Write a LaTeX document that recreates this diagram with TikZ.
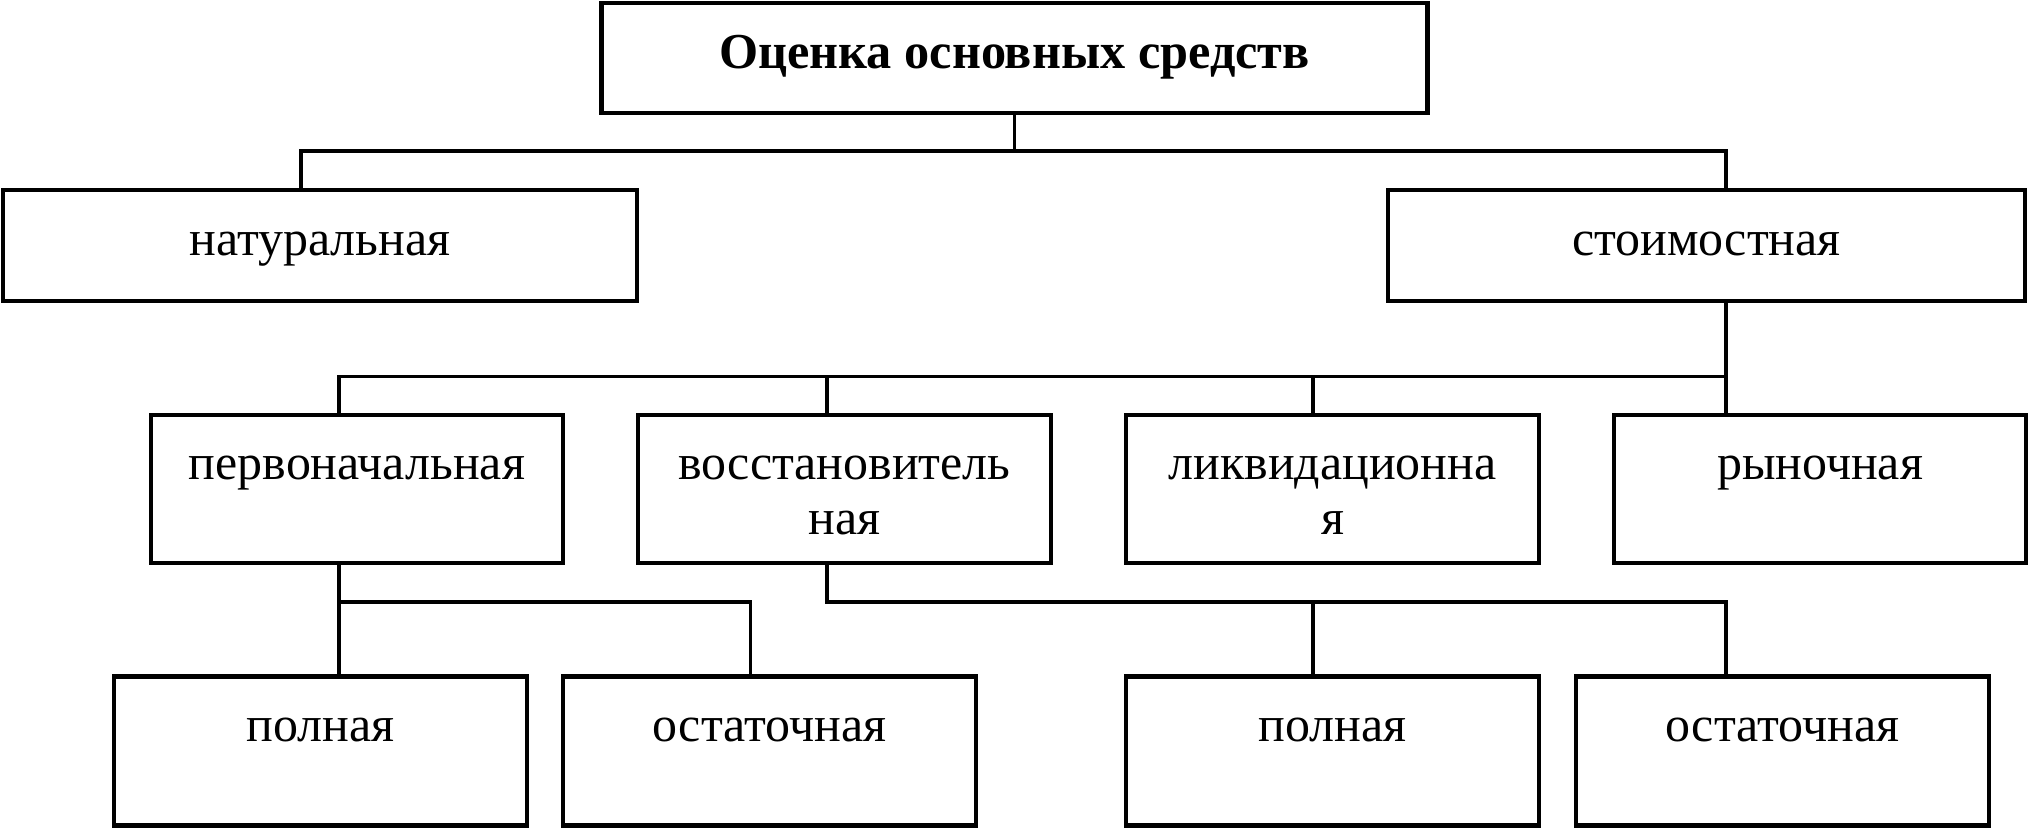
\documentclass[tikz,border=0pt]{standalone}
\usepackage{fontspec}
\setmainfont{Liberation Serif}
\newcommand{\boxtxt}[3]{\parbox[c][#2][t]{#1}{\vspace*{7.57pt}\centering\strut #3\par}}
\begin{document}
\begin{tikzpicture}[x=0.01cm,y=-0.01cm,
  box/.style={draw=black, line width=1.3pt, rectangle, inner sep=0pt, outer sep=0pt,
    font=\fontsize{14.2pt}{15.6pt}\selectfont},
  titlebox/.style={box, font=\fontsize{14.3pt}{15.6pt}\selectfont\bfseries},
  link/.style={draw=black, line width=0.95pt}]
\useasboundingbox (0,0) rectangle (2029,829);
% boxes
\node[titlebox] (top) at (1014.5,58) {\boxtxt{8.25cm}{1.10cm}{Оценка основных средств}};
\node[box] (nat) at (320,245.5) {\boxtxt{6.34cm}{1.11cm}{натуральная}};
\node[box] (cost) at (1706.5,245.5) {\boxtxt{6.37cm}{1.11cm}{стоимостная}};
\node[box] (perv) at (357,489) {\boxtxt{4.12cm}{1.48cm}{первоначальная}};
\node[box] (voss) at (844.5,489) {\boxtxt{4.13cm}{1.48cm}{восстановитель\\ная}};
\node[box] (likv) at (1332.5,489) {\boxtxt{4.13cm}{1.48cm}{ликвидационна\\я}};
\node[box] (ryn) at (1820,489) {\boxtxt{4.12cm}{1.48cm}{рыночная}};
\node[box] (poln1) at (320.5,751) {\boxtxt{4.13cm}{1.49cm}{полная}};
\node[box] (ost1) at (769.5,751) {\boxtxt{4.13cm}{1.49cm}{остаточная}};
\node[box] (poln2) at (1332.5,751) {\boxtxt{4.13cm}{1.49cm}{полная}};
\node[box] (ost2) at (1782.5,751) {\boxtxt{4.13cm}{1.49cm}{остаточная}};
% junction coordinates
\coordinate (jl) at (301,151);
\coordinate (jr) at (1726,151);
\coordinate (j0) at (top.south |- jl);
\coordinate (k1) at (339,376.5);
\coordinate (k2) at (827,376.5);
\coordinate (k3) at (1313,376.5);
\coordinate (k4) at (1726,376.5);
\coordinate (m1) at (339,602);
\coordinate (m2) at (750.5,602);
\coordinate (n1) at (827,602);
\coordinate (n2) at (1313,602);
\coordinate (n3) at (1726,602);
% connectors
\draw[link] (top.south) -- (j0);
\draw[link] (jl |- nat.north) -- (jl) -- (jr) -- (jr |- cost.north);
\draw[link] (k4 |- cost.south) -- (k4 |- ryn.north);
\draw[link] (k1 |- perv.north) -- (k1) -- (k4);
\draw[link] (k2) -- (k2 |- voss.north);
\draw[link] (k3) -- (k3 |- likv.north);
\draw[link] (m1 |- perv.south) -- (m1 |- poln1.north);
\draw[link] (m1) -- (m2) -- (m2 |- ost1.north);
\draw[link] (n1 |- voss.south) -- (n1) -- (n3) -- (n3 |- ost2.north);
\draw[link] (n2) -- (n2 |- poln2.north);
\end{tikzpicture}
\end{document}
